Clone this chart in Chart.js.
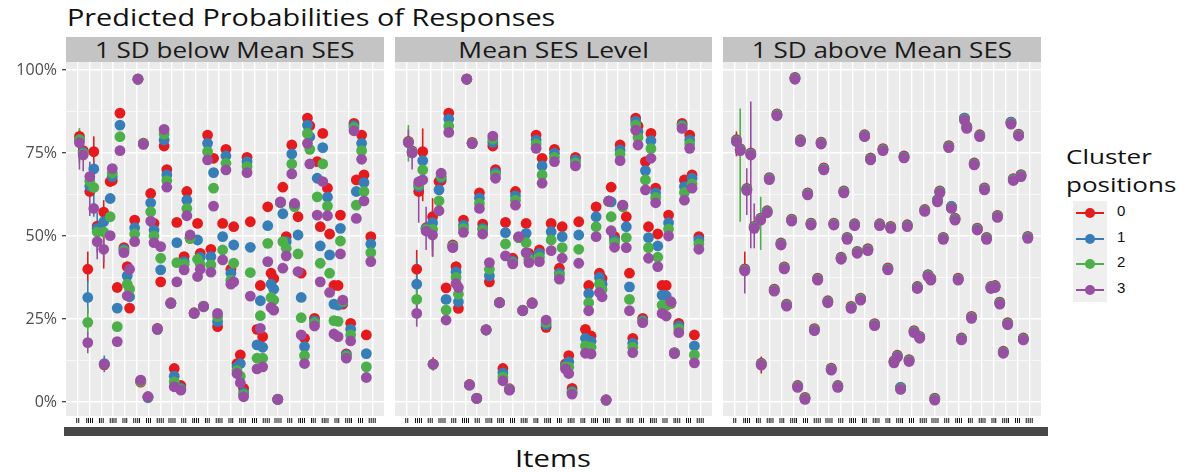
<!DOCTYPE html>
<html><head><meta charset="utf-8">
<script src="https://cdn.jsdelivr.net/npm/chart.js@4.4.0/dist/chart.umd.min.js"></script>
<style>
body{margin:0;width:1186px;height:473px;background:#fff;position:relative;overflow:hidden;font-family:"Open Sans",sans-serif;}
.abs{position:absolute;}
.sx{display:inline-block;transform-origin:center center;}
.strip{position:absolute;top:37px;height:26px;background:#C4C4C4;color:#1a1a1a;font-size:21px;line-height:26px;text-align:center;white-space:nowrap;}
.panel{position:absolute;top:62px;height:363px;}
</style></head><body>
<div class="abs" style="left:67px;top:0px;font-size:24px;color:#111;white-space:nowrap;"><span id="title" class="sx" style="transform:scaleX(1.2);transform-origin:left center;"></span></div>
<div class="strip" style="left:66px;width:318px;"><span id="s0" class="sx" style="transform:scaleX(1.24)"></span></div>
<div class="strip" style="left:395px;width:317px;"><span id="s1" class="sx" style="transform:scaleX(1.26)"></span></div>
<div class="strip" style="left:723px;width:318px;"><span id="s2" class="sx" style="transform:scaleX(1.24)"></span></div>
<div class="panel" style="left:0;width:384px;"><canvas id="c0"></canvas></div>
<div class="panel" style="left:395px;width:317px;"><canvas id="c1"></canvas></div>
<div class="panel" style="left:723px;width:318px;"><canvas id="c2"></canvas></div>
<div class="abs" style="left:64px;top:427px;width:984px;height:9px;background:#474747;"></div>
<div class="abs" style="left:453px;top:442px;width:200px;text-align:center;font-size:23px;color:#111;"><span id="xtitle" class="sx" style="transform:scaleX(1.27)"></span></div>
<div class="abs" style="left:1066px;top:143px;font-size:20px;line-height:28px;color:#111;white-space:nowrap;"><span id="legtitle" class="sx" style="transform:scaleX(1.3);transform-origin:left center;"></span></div>
<div class="abs" style="left:1073px;top:201px;width:34px;height:101px;background:#EFEFEF;"></div>
<div id="legend"></div>
<script>
const chartTitle = "Predicted Probabilities of Responses";
const xAxisTitle = "Items";
const facetNames = ["1 SD below Mean SES", "Mean SES Level", "1 SD above Mean SES"];
const clusterNames = ["0", "1", "2", "3"];
const clusterColors = ["#E41A1C", "#377EB8", "#4DAF4A", "#984EA3"];
const legendTitle = ["Cluster", "positions"];
const itemLabels = ["II","IIII","III","IIII","III","IIII","III","IIII","IIII","III","IIII","III","IIII","III","IIII","III","IIII","IIII","III","IIII","III","IIII","III","IIII","III","IIII"];
const yGridValues = [0, 12.5, 25, 37.5, 50, 62.5, 75, 87.5, 100];
const yLabelValues = [0, 25, 50, 75, 100];

// horizontal position of each group of points (item scale)
const stackPos = [0.14,0.46,0.85,1.02,1.36,1.65,2.2,2.25,2.75,2.93,3.58,3.35,3.92,4.2,4.4,4.83,5.11,5.34,5.57,5.96,6.19,6.47,6.76,7.04,7.33,7.56,7.9,8.19,8.41,8.75,9.03,9.26,9.54,9.88,10.17,10.4,10.68,11.02,11.3,11.53,11.87,12.3,12.58,13.0,13.24,13.52,13.8,14.08,14.37,14.65,15.22,15.7,15.5,16.13,16.41,16.64,16.98,17.21,17.41,17.7,18.17,18.4,18.7,18.97,19.25,19.5,19.7,20.1,20.33,20.59,20.8,21.2,21.38,21.75,22.1,22.3,22.5,22.8,23.17,23.45,23.65,24.1,24.3,24.5,24.88,14.8];

// Panel 1: 1 SD below mean SES
const p1Red = [80,75.7,40,63.4,75.4,53,57.2,11.2,66.4,66.7,87,34.5,46.5,40.8,28.3,54.8,97.3,6,78,1.6,62.8,53.8,22.2,36.2,77.1,70,29.9,10.1,54.1,5,43.8,63.4,49.3,26.9,53.8,44.8,28.9,80.4,46,73.4,22.7,53.8,76.1,40,52.8,11.6,14.2,4.1,73.7,54.3,21.9,19.7,35.1,58.8,38.8,37.2,0.9,60,64.7,49.8,77.4,59.5,55.8,38.8,19.2,85.5,83.2,25.2,72.4,52.8,80.9,64.4,50.6,35.1,35.1,56.3,29.5,14.5,23.7,83.9,66.9,80.4,68.4,20.2,49.8,null];
const p1Blue = [79,75.2,31.5,65,70.2,52.3,54.3,11.6,61.3,67.9,83.4,28.3,46,38,31.7,52.5,97.2,6.5,77.8,1.3,60,51.8,22,39.8,78.9,68.4,29.8,7.8,48,4.2,42.3,60.8,49.6,26.8,48.8,43.6,28.8,77.9,43.8,69.1,24.2,49.8,74.1,38.8,47.3,10.6,11.6,2.8,72.4,46.6,17.2,16.5,30.5,53.1,35.5,34,0.8,60.1,56.7,48.3,74.7,59.2,50.3,31.5,16.7,83.4,79.9,24.4,67.4,47,76.6,61.7,44.3,29.5,29.2,52.3,30,14.2,21.9,83.2,63.4,77.9,66.1,14.6,47.6,null];
const p1Green = [79,74.8,24,66.5,64.6,51.2,51.2,11.4,55.8,68.9,79.9,22.7,45.5,35.5,34,50.6,97.2,6.2,77.7,1.5,57.3,50,21.9,43.3,80.7,66.7,29.7,6.1,42,3.8,41.5,58.3,49.3,26.7,43,41.5,28.7,75.4,41.3,64.4,25.7,45.8,71.9,36.7,41.8,9.5,7.8,2.2,70.9,39,13.2,13.2,26,47.8,31.5,30.7,0.8,60.2,48.3,46.3,71.7,58.8,44.6,25.4,14,80.9,76.1,23.8,61.8,41.8,71.7,59,38.8,24.5,24.3,48.5,30.3,13.8,20.2,82.6,59.3,75.7,63.4,10.6,45,null];
const p1Purple = [78.1,74.4,17.9,67.9,58.3,48.3,46,11.4,50.1,70.3,75.7,18.2,45,32,40,48.3,97.2,6.6,77.6,1.6,54.5,48,21.9,46.8,82.1,64.7,29.7,4.6,36.2,3.6,39.8,56.1,50.3,26.7,37.8,40,28.7,72.9,39.1,59,26.7,42.8,69.9,35.5,36.2,8.6,5.8,1.6,69.1,31.9,10,10.6,22.2,42.3,28.5,27.7,0.8,60.3,40.3,44,68.7,59.8,39.3,20.2,11.6,77.9,71.7,22.9,56.3,36.2,66.4,56.1,33,20.5,19.7,44.6,30.7,13.2,18.4,81.7,55.3,73.1,60.6,7.4,42.3,null];

// Panel 2: mean SES level
const p2Red = [78.5,75.6,40,63.4,75.4,52.5,55.8,11.4,66.4,66.7,87,34.4,47.3,40.8,28.2,54.8,97.3,5.3,78.2,1.2,63,53.6,21.8,36.2,77.1,70,30,10.1,54.1,4,43.3,63.4,49.5,27.7,53.8,44.8,29.9,80.4,45.8,73.4,22.5,53.8,76.1,40.3,52.8,11.5,14,4.1,73.7,54.3,21.9,19.9,35.1,58.8,38.8,37.2,0.7,60.4,64.7,49.8,77.4,59.2,55.8,38.8,19.2,85.5,83.1,25.2,72.4,52.8,80.9,64.4,50.6,35.1,35.1,56.3,29.7,14.9,23.7,83.9,66.9,80.4,68.4,20.2,49.8,null];
const p2Blue = [78.3,75.4,35.5,64.9,72.7,52.3,54,11.4,63.9,67.5,85.2,30.9,47,39.2,30.2,53.3,97.2,5.2,78,1.1,61.4,52.3,21.7,38,78.2,69.1,29.9,8.8,51,3.8,42.4,62.1,49.6,27.6,50.8,43.8,29.8,78.9,44.8,71.1,23.3,51.3,74.9,38.8,49.8,11,12.1,3.2,72.9,50.3,19.2,18.3,32.7,55.8,37.5,35.5,0.6,60.5,60.3,48.8,75.9,59,52.8,34.7,17.7,84.5,81.4,24.6,69.7,49.5,78.7,63,47,32.2,32,54,29.9,14.8,22.9,83.4,64.9,78.9,67.4,16.9,48.8,null];
const p2Green = [78.2,75.2,30.9,65.5,69.9,52,52,11.4,60.6,68,83.1,27.7,46.8,37.5,32.5,52.3,97.2,5.1,77.9,1.1,59.8,51.8,21.7,40,79.2,68.4,29.9,7.6,47.6,3.7,42,60.8,49.6,27.5,48,43,29.7,77.7,43.6,68.4,24,48.8,73.7,38.1,46.5,10.6,10.5,2.8,72,46,16.9,16.5,29.9,52.8,35.5,33.9,0.6,60.5,55.8,48,74.7,58.8,49.5,30.9,16.5,83.4,79.7,24.2,66.9,46.5,76.3,61.6,43.6,29.2,29,52.1,30,14.7,22,83,63.1,77.7,65.7,14.2,47.6,null];
const p2Purple = [78.1,75,26.7,66.3,66.9,51.5,50.3,11.4,57.6,68.9,81.2,24.7,46.5,35.7,34.5,51.1,97.2,5.1,77.8,1.1,58.3,50.6,21.7,42,80.1,67.4,29.9,6.4,44,3.6,41.6,59.3,49.8,27.5,45,42,29.7,76.4,42.3,65.9,24.7,45.6,72.4,37,43.3,10,8.6,2.4,71.1,41.8,14.7,14.5,27.5,49.8,33,31.7,0.6,60.6,51.6,46.6,72.7,59.3,46.5,27.5,14.9,81.9,77.4,23.9,63.9,43.3,73.4,60,40.8,26.7,25.9,50,30.2,14.6,20.9,82.4,60.8,76.4,64.4,11.8,46,null];

// Panel 3: 1 SD above mean SES
const p3Red = [79.0,76.3,40.1,64.3,75.0,52.9,55.4,11.7,57.6,67.6,86.8,34.0,47.9,40.7,29.5,55.1,97.8,5.0,79.0,1.4,63.0,53.9,22.1,37.3,78.3,70.5,30.5,10.2,53.9,5.0,43.6,63.6,49.6,28.8,53.7,45.4,31.3,80.5,46.2,73.5,23.6,53.7,76.3,40.4,52.9,12.4,14.1,4.4,74.1,53.4,21.5,19.8,34.8,58.0,38.4,37.3,1.2,60.9,63.6,49.6,77.2,58.9,55.4,37.3,19.3,85.5,83.0,25.8,72.0,52.4,80.5,64.5,49.6,34.8,35.1,56.2,30.1,15.3,23.9,84.3,67.3,80.7,68.5,19.3,49.9,12.8];
const p3Blue = [78.8,76.1,39.9,64.1,74.8,52.7,55.2,11.5,57.4,67.4,86.6,33.8,47.7,40.5,29.3,54.9,97.6,4.8,78.8,1.2,62.8,53.7,21.9,37.1,78.1,70.3,30.3,10.0,53.7,4.8,43.4,63.4,49.4,28.6,53.5,45.2,31.1,80.3,46.0,73.3,23.4,53.5,76.1,40.2,52.7,12.2,13.9,4.4,73.9,53.2,21.3,19.6,34.6,57.8,38.2,37.1,1.0,60.9,63.4,49.4,77.0,58.9,55.2,37.1,19.1,85.5,82.8,25.6,71.8,52.2,80.3,64.3,49.4,34.6,34.9,56.0,29.9,15.1,23.7,84.3,67.1,80.5,68.3,19.1,49.7,12.6];
const p3Green = [78.6,75.9,39.7,63.9,74.6,52.5,55.0,11.3,57.2,67.2,86.4,33.6,47.5,40.3,29.1,54.7,97.4,4.6,78.6,1.0,62.6,53.5,21.7,36.9,77.9,70.1,30.1,9.8,53.5,4.6,43.2,63.2,49.2,28.4,53.3,45.0,30.9,80.1,45.8,73.1,23.2,53.3,75.9,40.0,52.5,12.0,13.7,4.0,73.7,53.0,21.1,19.4,34.4,57.6,38.0,36.9,0.8,60.5,63.2,49.2,76.8,58.5,55.0,36.9,18.9,85.1,82.6,25.4,71.6,52.0,80.1,64.1,49.2,34.4,34.7,55.8,29.7,14.9,23.5,83.9,66.9,80.3,68.1,18.9,49.5,12.4];
const p3Purple = [78.4,75.7,39.5,63.7,74.4,52.3,54.8,11.1,57,67,86.2,33.4,47.3,40.1,28.9,54.5,97.2,4.4,78.4,0.8,62.4,53.3,21.5,36.7,77.7,69.9,29.9,9.6,53.3,4.4,43,63,49,28.2,53.1,44.8,30.7,79.9,45.6,72.9,23,53.1,75.7,39.8,52.3,11.8,13.5,3.8,73.5,52.8,20.9,19.2,34.2,57.4,37.8,36.7,0.6,60.3,63,49,76.6,58.3,54.8,36.7,18.7,84.9,82.4,25.2,71.4,51.8,79.9,63.9,49,34.2,34.5,55.6,29.5,14.7,23.3,83.7,66.7,80.1,67.9,18.7,49.3,12.2];

// confidence intervals: [group index, cluster, lower %, upper %]
const errP1 = [[0,0,74,82],[0,1,73,81],[0,2,72,82.5],[0,3,70,80],[1,3,69.5,78],[2,0,36.2,45.3],[2,1,26.7,36.5],[2,2,20.5,28.5],[2,3,14.7,21],[3,3,56,72.4],[4,0,70,80],[4,1,55.8,72.4],[5,1,45,57],[5,3,43,54],[6,0,40.2,60.8],[6,3,42,52],[7,1,9,14]];
const errP2 = [[0,2,72.4,83.4],[0,3,74,82],[1,3,70,78],[2,0,32.7,45.8],[2,1,28,43],[2,2,25.7,34.7],[2,3,22.7,30],[3,3,54,68],[4,0,60.5,82.4],[5,3,45.8,58.8],[6,0,43.8,61.4],[6,1,46,57],[6,3,43.8,57.8],[7,0,9.5,13.5]];
const errP3 = [[0,0,74,81.5],[1,2,54.3,88.4],[2,0,38,45.3],[2,3,32.7,40],[3,3,56.3,70.4],[4,3,46.3,90.5],[5,3,46.3,59.8],[6,2,45.8,61.8],[7,0,8.6,13.7]];

const panels = [
  {series:[p1Red,p1Blue,p1Green,p1Purple], err:errP1},
  {series:[p2Red,p2Blue,p2Green,p2Purple], err:errP2},
  {series:[p3Red,p3Blue,p3Green,p3Purple], err:errP3}
];

document.getElementById('title').textContent = chartTitle;
document.getElementById('xtitle').textContent = xAxisTitle;
document.getElementById('legtitle').innerHTML = legendTitle.join('<br>');
facetNames.forEach((n,i)=>{ document.getElementById('s'+i).textContent = n; });

// legend
const leg = document.getElementById('legend');
clusterNames.forEach((n,i)=>{
  const top = 213 + i*25.5;
  leg.insertAdjacentHTML('beforeend',
    `<div class="abs" style="left:1076px;top:${top-1}px;width:28px;height:2px;background:${clusterColors[i]}"></div>`+
    `<div class="abs" style="left:1085px;top:${top-5}px;width:10px;height:10px;border-radius:50%;background:${clusterColors[i]}"></div>`+
    `<div class="abs" style="left:1117px;top:${top-11}px;font-size:15px;font-family:'Liberation Sans',Arial,sans-serif;color:#111">${n}</div>`);
});

const bgPlugin = {
  id:'panelBg',
  beforeDraw(chart){
    const {ctx, chartArea:a} = chart;
    ctx.save(); ctx.fillStyle = '#EBEBEB'; ctx.fillRect(a.left, a.top, a.width, a.height); ctx.restore();
  }
};
function errPlugin(bars){
  return {
    id:'errBars',
    beforeDatasetsDraw(chart){
      const ctx = chart.ctx, xs = chart.scales.x, ys = chart.scales.y;
      ctx.save(); ctx.lineWidth = 1.6;
      bars.forEach(([idx, s, lo, hi])=>{
        const x = xs.getPixelForValue(stackPos[idx]);
        ctx.strokeStyle = clusterColors[s];
        ctx.beginPath(); ctx.moveTo(x, ys.getPixelForValue(lo)); ctx.lineTo(x, ys.getPixelForValue(hi)); ctx.stroke();
      });
      ctx.restore();
    }
  };
}
function noPad(s){ s.paddingTop = 0; s.paddingBottom = 0; s.paddingLeft = 0; s.paddingRight = 0; }

panels.forEach((p, pi)=>{
  const datasets = p.series.map((vals, si)=>({
    label: clusterNames[si],
    data: vals.map((v,k)=>({x: stackPos[k], y: v})),
    backgroundColor: clusterColors[si],
    borderColor: clusterColors[si],
    borderWidth: 0,
    pointRadius: 5.4,
    pointHoverRadius: 5.4,
    order: 3 - si,
    clip: false
  }));
  new Chart(document.getElementById('c'+pi), {
    type:'scatter',
    data:{datasets},
    options:{
      responsive:true, maintainAspectRatio:false, animation:false, devicePixelRatio:1,
      layout:{padding:0, autoPadding:false},
      plugins:{legend:{display:false}, tooltip:{enabled:false}},
      scales:{
        x:{
          type:'linear', min:-1, max:26,
          afterBuildTicks: s => { s.ticks = itemLabels.map((l,i)=>({value:i})); },
          afterFit: s => { s.height = 9; noPad(s); },
          ticks:{ autoSkip:false, maxRotation:0, minRotation:0, padding:1, color:'#111',
                  font:{size:7, weight:'bold', family:'Liberation Sans'},
                  callback: v => itemLabels[v] },
          grid:{ color:'#FFFFFF', lineWidth:1.4, drawTicks:false },
          border:{ display:false }
        },
        y:{
          type:'linear', min:-4.2, max:102.4,
          afterBuildTicks: s => { s.ticks = yGridValues.map(v=>({value:v})); },
          afterFit: s => { s.width = pi === 0 ? 66 : 0; noPad(s); },
          ticks:{ display: pi === 0, padding:5, color:'#4D4D4D',
                  font:{size:16, family:'Open Sans'},
                  callback: v => yLabelValues.includes(v) ? v + '%' : '' },
          grid:{ color:'#FFFFFF',
                 lineWidth: c => (c.tick && yLabelValues.includes(c.tick.value)) ? 1.4 : 0.6,
                 drawTicks: pi === 0, tickLength:4,
                 tickColor: c => (c.tick && yLabelValues.includes(c.tick.value)) ? '#333333' : 'rgba(0,0,0,0)',
                 tickWidth: 1.2 },
          border:{ display:false }
        }
      }
    },
    plugins:[bgPlugin, errPlugin(p.err)]
  });
});
</script>
</body></html>
